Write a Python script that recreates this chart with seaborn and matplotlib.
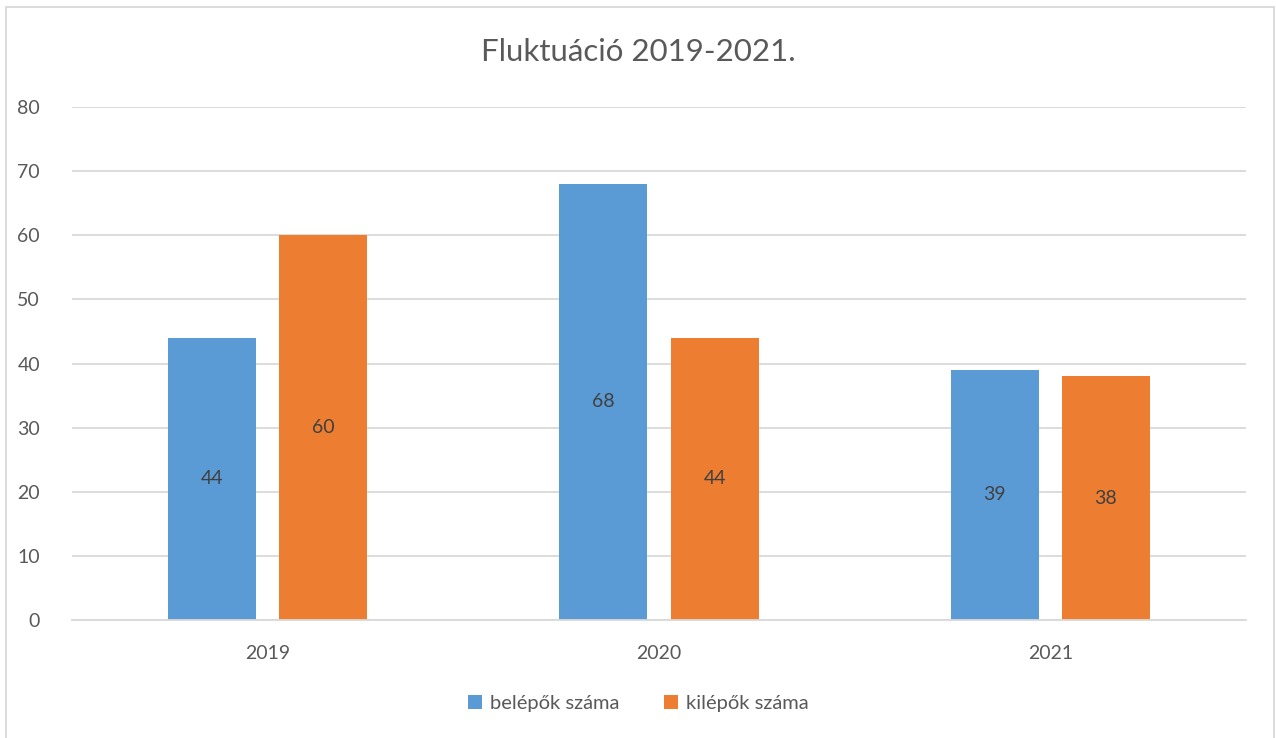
import matplotlib
matplotlib.use("Agg")
import matplotlib.pyplot as plt
import seaborn as sns
import pandas as pd
from matplotlib.patches import Rectangle

# data
years = ["2019", "2020", "2021"]
belepok = [44, 68, 39]
kilepok = [60, 44, 38]
series_names = ["belépők száma", "kilépők száma"]

df = pd.DataFrame({
    "year": years * 2,
    "value": belepok + kilepok,
    "series": [series_names[0]] * 3 + [series_names[1]] * 3,
})

sns.set_theme(style="white")
plt.rcParams['font.family'] = ['Lato', 'DejaVu Sans']
gray = "#595959"

fig = plt.figure(figsize=(12.76, 7.38), dpi=100)
ax = fig.add_axes([0.0564, 0.1599, 0.920, 0.6951])

sns.barplot(data=df, x="year", y="value", hue="series", ax=ax,
            palette=["#5B9BD5", "#ED7D31"], width=0.569, gap=0.21,
            saturation=1, edgecolor="none")

# labels in the middle of the bars
for cont in ax.containers:
    for bar in cont:
        h = bar.get_height()
        ax.text(bar.get_x() + bar.get_width() / 2, h / 2, f"{h:.0f}",
                ha="center", va="center", fontsize=14, color="#404040")

ax.set_ylim(0, 80)
ax.set_yticks(range(0, 81, 10))
ax.set_xlim(-0.5, 2.5)
ax.yaxis.grid(True, color="#D9D9D9", linewidth=1.3)
ax.set_axisbelow(True)
for s in ["top", "right", "left"]:
    ax.spines[s].set_visible(False)
ax.spines["bottom"].set_color("#D9D9D9")
ax.spines["bottom"].set_linewidth(1.3)
ax.tick_params(axis="y", length=0, pad=23, labelsize=14, labelcolor=gray)
ax.tick_params(axis="x", length=0, pad=18, labelsize=14, labelcolor=gray)
ax.set_xlabel("")
ax.set_ylabel("")

fig.text(0.5, 0.93, "Fluktuáció 2019-2021.", ha="center", va="center",
         fontsize=22.5, color=gray)

ax.legend(loc="center", bbox_to_anchor=(0.5, 0.047), bbox_transform=fig.transFigure,
          ncol=2, frameon=False, fontsize=14.5, labelcolor=gray,
          handlelength=0.7, handleheight=0.7, handletextpad=0.4, columnspacing=2.2)

# chart border
fig.patches.append(Rectangle((6 / 1276, -0.01), 1268 / 1276, 1 - 7 / 738 + 0.01,
                             transform=fig.transFigure, fill=False,
                             edgecolor="#D9D9D9", linewidth=1.3))

fig.savefig("out.png", dpi=100)
